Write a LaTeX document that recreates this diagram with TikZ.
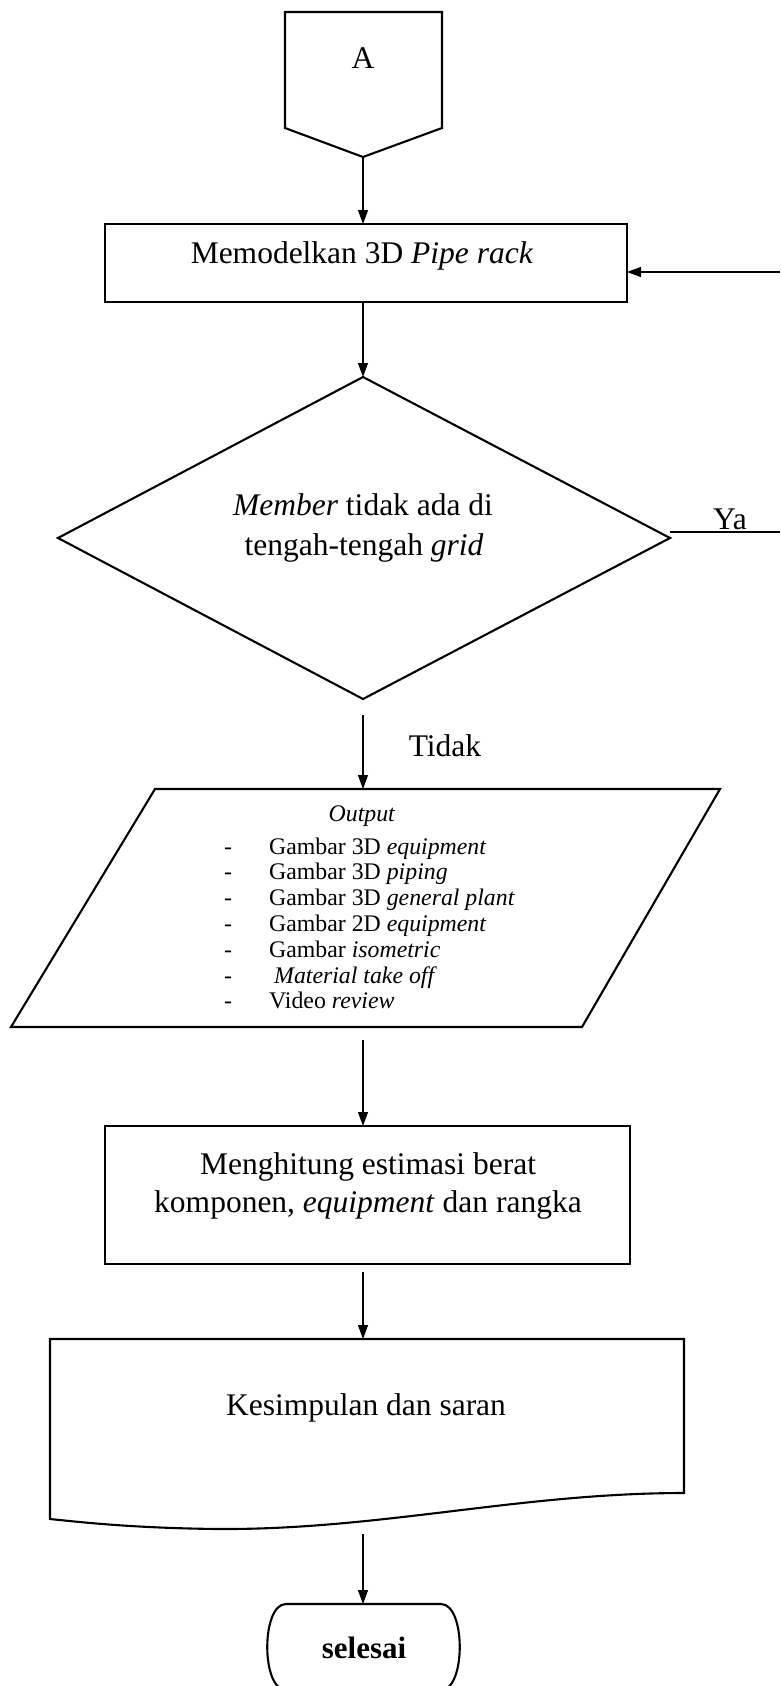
\documentclass[tikz,border=0pt]{standalone}
\usepackage{fontspec}
\setmainfont{Liberation Serif}
\usetikzlibrary{arrows.meta}
\begin{document}
\begin{tikzpicture}[x=1pt,y=-1pt,
  outl/.style={draw=black, line width=2.1pt, line join=miter},
  arr/.style={draw=black, line width=1.1pt, -{Triangle[length=14pt,width=10pt]}},
  plain/.style={draw=black, line width=1.1pt},
  bigtxt/.style={font=\fontsize{31.5}{38}\selectfont, inner sep=0pt, anchor=base},
  smalltxt/.style={font=\fontsize{23.8}{26}\selectfont, inner sep=0pt, anchor=base},
  boldtxt/.style={font=\fontsize{31}{38}\selectfont\bfseries, inner sep=0pt, anchor=base},
  ]
\useasboundingbox (0,0) rectangle (780,1686);
\fill[white] (0,0) rectangle (780,1686);

% off-page connector A
\draw[outl] (285,12) -- (442,12) -- (442,128) -- (363,157) -- (285,128) -- cycle;
\coordinate (Abot) at (363,157);
\node[bigtxt] (Atxt) at (363,69) {A};

% box 1
\node[outl, minimum width=522pt, minimum height=78pt, inner sep=0pt] (m1) at (366,263) {};
\node[bigtxt] (m1txt) at (362,263) {Memodelkan 3D \textit{Pipe rack}};
\coordinate (m1top) at (363,224);
\coordinate (m1bot) at (363,303);
\coordinate (m1right) at (627,272);

% decision diamond
\coordinate (dT) at (363,377);
\coordinate (dR) at (670,538);
\coordinate (dB) at (363,699);
\coordinate (dL) at (58,538);
\draw[outl] (dT) -- (dR) -- (dB) -- (dL) -- cycle;
\node[bigtxt] (d1) at (363,515) {\textit{Member} tidak ada di};
\node[bigtxt] (d2) at (364,555) {tengah-tengah \textit{grid}};
\coordinate (dout) at (363,715);

% Ya branch
\coordinate (yaStart) at (670,532);
\coordinate (yaEnd) at (780,532);
\draw[plain] (yaStart) -- (yaEnd);
\node[bigtxt] (ya) at (730,529) {Ya};
\coordinate (backStart) at (780,272);
\draw[arr] (backStart) -- (m1right);

\node[bigtxt] (tidak) at (445,756) {Tidak};

% parallelogram
\coordinate (pTL) at (155,789);
\coordinate (pTR) at (720,789);
\coordinate (pBR) at (582,1027);
\coordinate (pBL) at (11,1027);
\draw[outl] (pTL) -- (pTR) -- (pBR) -- (pBL) -- cycle;
\coordinate (ptop) at (363,789);
\coordinate (pout) at (363,1040);
\node[smalltxt] (out) at (362,821) {\textit{Output}};
\foreach \i/\t in {0/{Gambar 3D \textit{equipment}},
                   1/{Gambar 3D \textit{piping}},
                   2/{Gambar 3D \textit{general plant}},
                   3/{Gambar 2D \textit{equipment}},
                   4/{Gambar \textit{isometric}},
                   5/{\hspace*{5pt}\textit{Material take off}},
                   6/{Video \textit{review}}}{
  \node[smalltxt] (dash\i) at (228,854+25.8*\i) {-};
  \node[smalltxt, anchor=base west] (item\i) at (269,854+25.8*\i) {\t};
}

% box 2
\node[outl, minimum width=525pt, minimum height=138pt, inner sep=0pt] (m2) at (367.5,1195) {};
\node[bigtxt] (m2a) at (368,1174) {Menghitung estimasi berat};
\node[bigtxt] (m2b) at (368,1212) {komponen, \textit{equipment} dan rangka};
\coordinate (m2top) at (363,1126);
\coordinate (m2bot) at (363,1272);

% document shape
\draw[outl] (50,1339) -- (684,1339) -- (684,1493)
  .. controls (520,1493) and (380,1530) .. (218,1529)
  .. controls (130,1528) and (80,1522) .. (50,1519) -- cycle;
\coordinate (doctop) at (363,1339);
\coordinate (docbot) at (363,1534);
\node[bigtxt] (kes) at (366,1415) {Kesimpulan dan saran};

% terminator
\draw[outl] (286,1604) -- (441,1604)
  .. controls (466,1604) and (466,1690) .. (441,1690)
  -- (286,1690)
  .. controls (261,1690) and (261,1604) .. (286,1604) -- cycle;
\coordinate (ttop) at (363,1604);
\node[boldtxt] (sel) at (364,1658) {selesai};

% connectors
\draw[arr] (Abot) -- (m1top);
\draw[arr] (m1bot) -- (dT);
\draw[arr] (dout) -- (ptop);
\draw[arr] (pout) -- (m2top);
\draw[arr] (m2bot) -- (doctop);
\draw[arr] (docbot) -- (ttop);
\end{tikzpicture}
\end{document}
